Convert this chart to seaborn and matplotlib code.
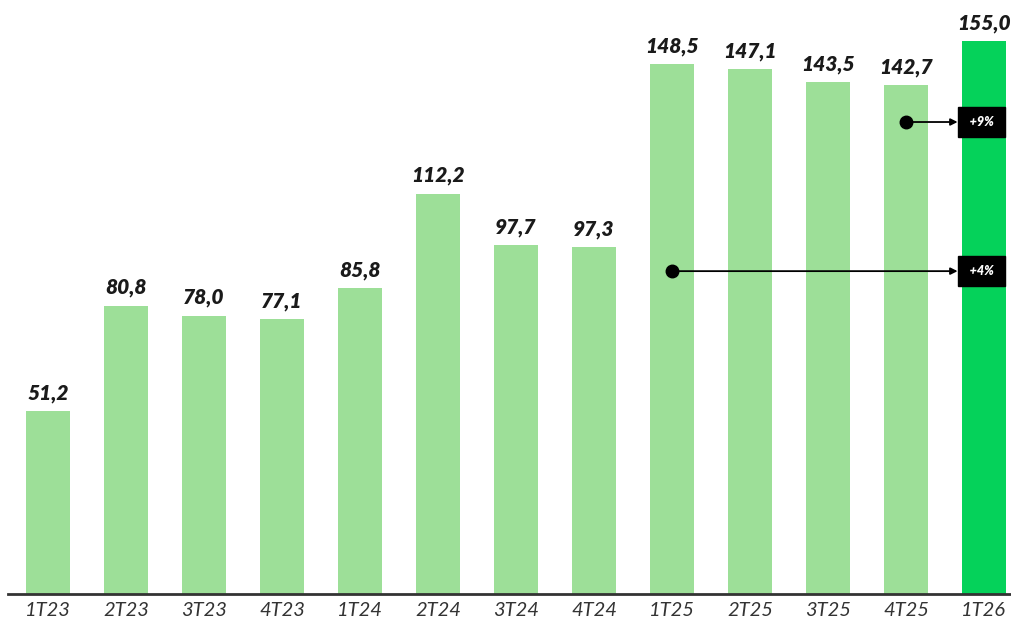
import matplotlib
matplotlib.use("Agg")
import matplotlib.pyplot as plt
import seaborn as sns
import pandas as pd

quarters = ["1T23", "2T23", "3T23", "4T23", "1T24", "2T24", "3T24", "4T24",
            "1T25", "2T25", "3T25", "4T25", "1T26"]
values = [51.2, 80.8, 78.0, 77.1, 85.8, 112.2, 97.7, 97.3,
          148.5, 147.1, 143.5, 142.7, 155.0]
growth_from = ["1T25", "4T25"]
growth_labels = ["+4%", "+9%"]

LIGHT = "#9ddf98"
BRIGHT = "#05d25a"

df = pd.DataFrame({"quarter": quarters, "value": values})
df["kind"] = ["current" if q == quarters[-1] else "past" for q in quarters]

sns.set_theme(style="white")
plt.rcParams["font.family"] = ["Lato", "DejaVu Sans"]

fig = plt.figure(figsize=(10.12, 6.26), dpi=100)
ax = fig.add_axes([8 / 1012, 32 / 626, 1004 / 1012, 594 / 626])

sns.barplot(data=df, x="quarter", y="value", hue="kind",
            palette={"past": LIGHT, "current": BRIGHT},
            width=0.56, dodge=False, legend=False, ax=ax,
            saturation=1, edgecolor="none")

ax.set_xlim(-0.513, 12.36)
ax.set_ylim(0, 166.5)

# value labels above each bar
for i, v in enumerate(values):
    ax.annotate(f"{v:.1f}".replace(".", ","), xy=(i, v), xytext=(0, 6),
                textcoords="offset points", ha="center", va="bottom",
                fontsize=15, fontweight="heavy", fontstyle="italic",
                color="#1a1a1a")

# growth markers: dot on a reference bar, arrow to a tag on the last bar
marker_levels = [90.5, 132.3]
last = len(quarters) - 1
for q, lab, y in zip(growth_from, growth_labels, marker_levels):
    i = quarters.index(q)
    ax.plot(i, y, "o", color="black", markersize=9, zorder=7)
    ax.annotate(f" {lab} ", xy=(i, y), xytext=(last - 0.03, y),
                ha="center", va="center", fontsize=9, fontweight="heavy",
                fontstyle="italic", color="white", zorder=6,
                bbox=dict(boxstyle="square,pad=0.7", fc="black", ec="black"),
                arrowprops=dict(arrowstyle="<|-", color="black", lw=1.3,
                                mutation_scale=10, shrinkA=0, shrinkB=0))

ax.set_xlabel("")
ax.set_ylabel("")
ax.set_yticks([])
sns.despine(ax=ax, left=True)
ax.spines["bottom"].set_color("#333333")
ax.spines["bottom"].set_linewidth(2)
ax.tick_params(axis="x", length=0, pad=6)
for t in ax.get_xticklabels():
    t.set_fontstyle("italic")
    t.set_fontsize(14.5)
    t.set_color("#333333")

fig.savefig("out.png", dpi=100)
